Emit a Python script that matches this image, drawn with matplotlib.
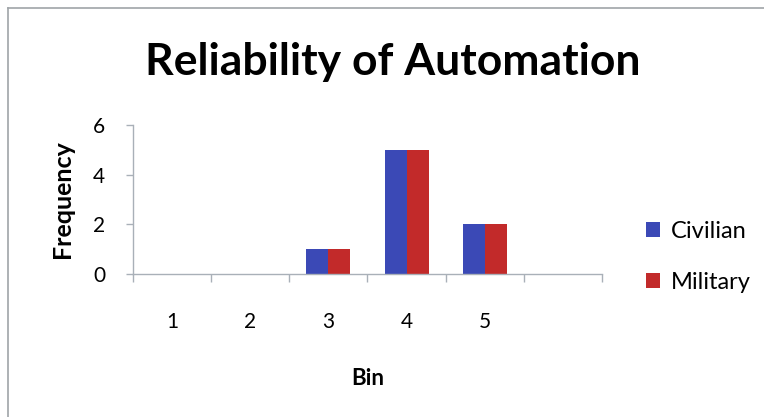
import matplotlib
matplotlib.use("Agg")
import matplotlib.pyplot as plt
from matplotlib.lines import Line2D
from matplotlib.patches import Patch
import numpy as np

# Histogram bins (last bin has no label) and counts per group
bins = ["1", "2", "3", "4", "5", ""]
civilian = [0, 0, 1, 5, 2, 0]
military = [0, 0, 1, 5, 2, 0]
series_names = ["Civilian", "Military"]
colors = ["#3b49b6", "#c22a2a"]

W, H, DPI = 764, 417, 100
fig = plt.figure(figsize=(W / DPI, H / DPI), dpi=DPI)
fig.patch.set_facecolor("white")

font = "Lato"
axis_color = "#a9b0b8"

ax = fig.add_axes([133 / W, 1 - 274 / H, (602 - 133) / W, (274 - 125) / H])
x = np.arange(len(bins))
bw = 0.282
ax.bar(x - bw / 2, civilian, width=bw, color=colors[0], linewidth=0)
ax.bar(x + bw / 2, military, width=bw, color=colors[1], linewidth=0)

ax.set_xlim(-0.5, len(bins) - 0.5)
ax.set_ylim(0, 6)
ax.set_yticks([0, 2, 4, 6])
ax.set_yticklabels(["0", "2", "4", "6"], fontsize=15, fontfamily=font)

# Category labels centered, tick marks on category boundaries
ax.set_xticks(x)
ax.set_xticklabels(bins, fontsize=15, fontfamily=font)
ax.tick_params(axis="x", length=0, pad=27)
ax.set_xticks(np.arange(-0.5, len(bins)), minor=True)
ax.tick_params(axis="x", which="minor", length=6, color=axis_color, width=1)
ax.tick_params(axis="y", length=5, color=axis_color, width=1, pad=15)

for s in ["top", "right"]:
    ax.spines[s].set_visible(False)
for s in ["left", "bottom"]:
    ax.spines[s].set_color(axis_color)
    ax.spines[s].set_linewidth(1)

ax.set_ylabel("Frequency", fontsize=18, fontweight="bold", fontfamily=font, labelpad=14)
ax.set_xlabel("Bin", fontsize=16, fontweight="bold", fontfamily=font, labelpad=26)

fig.text(393 / W, 1 - 62 / H, "Reliability of Automation", ha="center", va="center",
         fontsize=32, fontweight="bold", fontfamily=font)

handles = [Patch(facecolor=c, edgecolor="none") for c in colors]
fig.legend(handles, series_names, loc="center left", bbox_to_anchor=(625 / W, 1 - 257 / H),
           frameon=False, prop={"family": font, "size": 17}, handlelength=0.6,
           handleheight=0.6, handletextpad=0.45, labelspacing=1.25)

# Chart frame (top and left edges)
fig.add_artist(Line2D([8 / W, 1], [1 - 8 / H, 1 - 8 / H], transform=fig.transFigure,
                      color="#a0a4a8", linewidth=1.2))
fig.add_artist(Line2D([8 / W, 8 / W], [0, 1 - 8 / H], transform=fig.transFigure,
                      color="#a0a4a8", linewidth=1.2))

fig.savefig("out.png", dpi=DPI)
